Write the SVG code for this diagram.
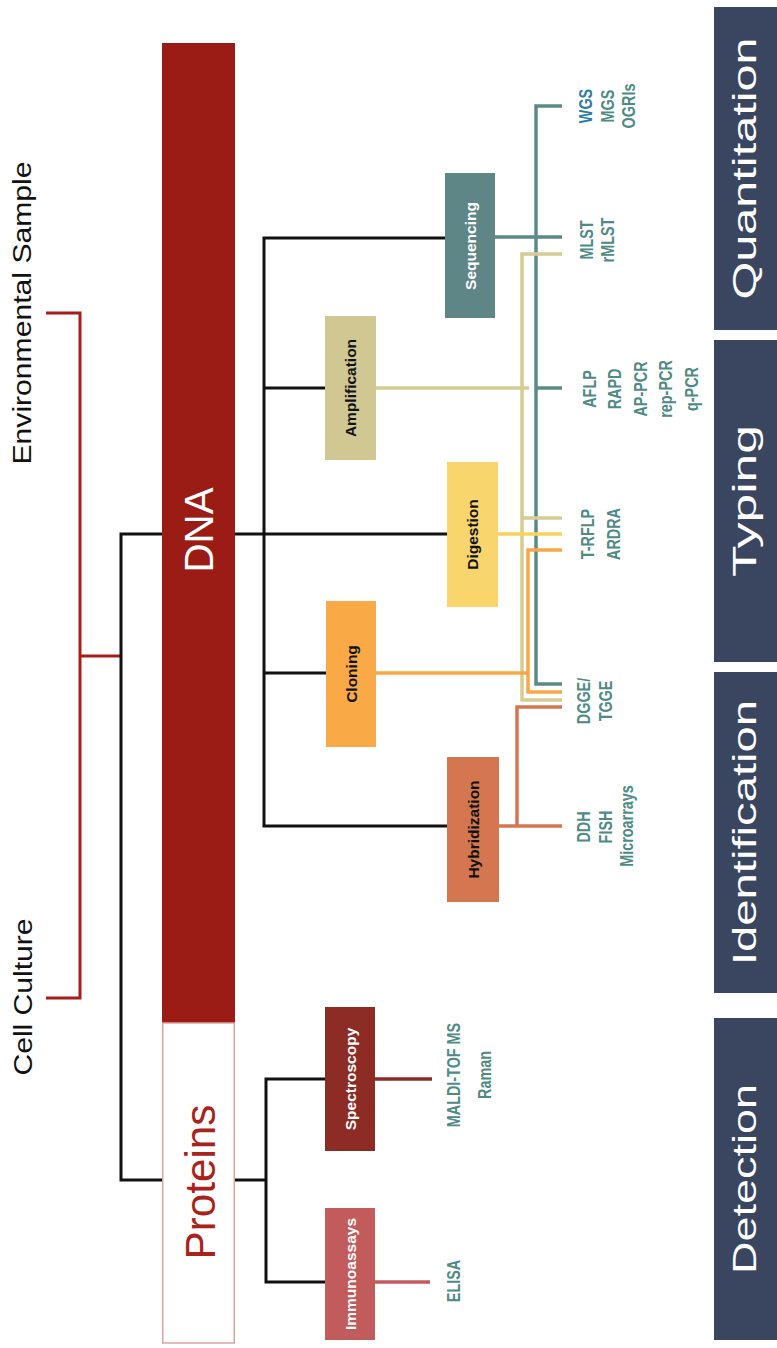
<svg xmlns="http://www.w3.org/2000/svg" width="777" height="1348" viewBox="0 0 777 1348">
<style>
  .cat { fill:#3a4660; }
  .catt { font-family:"Liberation Sans", Arial, sans-serif; font-size:33px; fill:#ffffff; text-anchor:middle; }
  .big { font-family:"Liberation Sans", Arial, sans-serif; text-anchor:middle; }
  .nt { font-family:"Liberation Sans", Arial, sans-serif; font-weight:bold; font-size:15.5px; text-anchor:middle; }
  .leaf { font-family:"Liberation Sans", Arial, sans-serif; font-weight:bold; font-size:18px; fill:#4f8a84; text-anchor:middle; }
  .blk { fill:none; stroke:#111111; stroke-width:3; }
  .ln { fill:none; stroke-width:3.5; }
</style>

<g id="connectors">
  <path d="M46,313 H80 V998 H46" fill="none" stroke="#a61f1a" stroke-width="3"/>
  <path d="M80,656 H121" fill="none" stroke="#a61f1a" stroke-width="3"/>
  <path class="blk" d="M162,534 H121 V1180 H162"/>
  <path class="blk" d="M235,534 H447"/>
  <path class="blk" d="M445,238 H264 V826 H447"/>
  <path class="blk" d="M264,388 H325"/>
  <path class="blk" d="M264,673 H326"/>
  <path class="blk" d="M235,1180 H266"/>
  <path class="blk" d="M325,1079 H266 V1282 H325"/>

  <path class="ln" stroke="#5b8a89" d="M562,106 H536 V684 H562"/>
  <path class="ln" stroke="#5b8a89" d="M495,237 H562"/>
  <path class="ln" stroke="#5b8a89" d="M536,388 H562"/>
  <path class="ln" stroke="#d6cb93" d="M562,254 H522 V700 H562"/>
  <path class="ln" stroke="#d6cb93" d="M376,388 H529"/>
  <path class="ln" stroke="#d6cb93" d="M522,518 H562"/>
  <path class="ln" stroke="#f9a845" d="M562,550 H528 V692 H562"/>
  <path class="ln" stroke="#f9a845" d="M376,673 H528"/>
  <path class="ln" stroke="#f8d35c" d="M498,534 H562"/>
  <path class="ln" stroke="#d4764f" d="M499,826 H562"/>
  <path class="ln" stroke="#d4764f" d="M517,826 V707 H562"/>
  <path class="ln" stroke="#8d2b25" d="M375,1079 H432"/>
  <path class="ln" stroke="#c25c5c" d="M375,1282 H430"/>
</g>

<g id="env-sample">
  <text class="big" font-size="26" fill="#111" textLength="303" lengthAdjust="spacingAndGlyphs" transform="translate(31,313) rotate(-90)">Environmental Sample</text>
</g>
<g id="cell-culture">
  <text class="big" font-size="26" fill="#111" textLength="157" lengthAdjust="spacingAndGlyphs" transform="translate(32,997) rotate(-90)">Cell Culture</text>
</g>

<g id="dna">
  <rect x="162" y="43" width="73" height="980" fill="#9b1c15"/>
  <text class="big" font-size="41" fill="#ffffff" textLength="85" lengthAdjust="spacingAndGlyphs" transform="translate(213,530) rotate(-90)">DNA</text>
</g>
<g id="proteins">
  <rect x="162.75" y="1023" width="71.5" height="320" fill="#ffffff" stroke="#dba5a0" stroke-width="1.5"/>
  <text class="big" font-size="43" fill="#a8231b" textLength="155" lengthAdjust="spacingAndGlyphs" transform="translate(215,1182) rotate(-90)">Proteins</text>
</g>

<g id="sequencing">
  <rect x="445" y="173" width="50" height="145" fill="#5e8686"/>
  <text class="nt" fill="#ffffff" transform="translate(475.5,246) rotate(-90)">Sequencing</text>
</g>
<g id="amplification">
  <rect x="325" y="316" width="51" height="144" fill="#d0c793"/>
  <text class="nt" fill="#111" transform="translate(356,388) rotate(-90)">Amplification</text>
</g>
<g id="digestion">
  <rect x="447" y="462" width="51" height="145" fill="#f8d56d"/>
  <text class="nt" fill="#111" transform="translate(478,534.5) rotate(-90)">Digestion</text>
</g>
<g id="cloning">
  <rect x="326" y="601" width="50" height="146" fill="#f9a945"/>
  <text class="nt" fill="#111" transform="translate(356.5,674) rotate(-90)">Cloning</text>
</g>
<g id="hybridization">
  <rect x="447" y="757" width="52" height="145" fill="#d4764f"/>
  <text class="nt" fill="#111" transform="translate(478.5,829.5) rotate(-90)">Hybridization</text>
</g>
<g id="spectroscopy">
  <rect x="325" y="1007" width="50" height="144" fill="#8d2b25"/>
  <text class="nt" fill="#ffffff" transform="translate(355.5,1079) rotate(-90)">Spectroscopy</text>
</g>
<g id="immunoassays">
  <rect x="325" y="1208" width="50" height="132" fill="#c25c5c"/>
  <text class="nt" fill="#ffffff" transform="translate(355.5,1274) rotate(-90)">Immunoassays</text>
</g>

<g id="leaf-labels">
  <text class="leaf" style="fill:#2a7da5" transform="translate(591.5,106) rotate(-90) scale(0.8,1)">WGS</text>
  <text class="leaf" transform="translate(613.5,106) rotate(-90) scale(0.8,1)">MGS</text>
  <text class="leaf" transform="translate(634.5,106) rotate(-90) scale(0.8,1)">OGRIs</text>
  <text class="leaf" transform="translate(592.5,240) rotate(-90) scale(0.8,1)">MLST</text>
  <text class="leaf" transform="translate(613.5,240) rotate(-90) scale(0.8,1)">rMLST</text>
  <text class="leaf" transform="translate(595.5,389) rotate(-90) scale(0.8,1)">AFLP</text>
  <text class="leaf" transform="translate(621,389) rotate(-90) scale(0.8,1)">RAPD</text>
  <text class="leaf" transform="translate(646.5,389) rotate(-90) scale(0.8,1)">AP-PCR</text>
  <text class="leaf" transform="translate(672,389) rotate(-90) scale(0.8,1)">rep-PCR</text>
  <text class="leaf" transform="translate(697.5,389) rotate(-90) scale(0.8,1)">q-PCR</text>
  <text class="leaf" transform="translate(593.5,534) rotate(-90) scale(0.8,1)">T-RFLP</text>
  <text class="leaf" transform="translate(619.5,534) rotate(-90) scale(0.8,1)">ARDRA</text>
  <text class="leaf" transform="translate(589.5,701) rotate(-90) scale(0.8,1)">DGGE/</text>
  <text class="leaf" transform="translate(611.5,701) rotate(-90) scale(0.8,1)">TGGE</text>
  <text class="leaf" transform="translate(589.5,827) rotate(-90) scale(0.8,1)">DDH</text>
  <text class="leaf" transform="translate(611.5,827) rotate(-90) scale(0.8,1)">FISH</text>
  <text class="leaf" transform="translate(632.5,826) rotate(-90) scale(0.8,1)">Microarrays</text>
  <text class="leaf" transform="translate(459.5,1075) rotate(-90) scale(0.8,1)">MALDI-TOF MS</text>
  <text class="leaf" transform="translate(490.5,1075) rotate(-90) scale(0.8,1)">Raman</text>
  <text class="leaf" transform="translate(459.5,1281) rotate(-90) scale(0.8,1)">ELISA</text>
</g>

<g id="quantitation">
  <rect class="cat" x="714" y="7" width="63" height="323"/>
  <text class="catt" textLength="262" lengthAdjust="spacingAndGlyphs" transform="translate(756,168.5) rotate(-90)">Quantitation</text>
</g>
<g id="typing">
  <rect class="cat" x="714" y="340" width="63" height="322"/>
  <text class="catt" textLength="152" lengthAdjust="spacingAndGlyphs" transform="translate(756,501) rotate(-90)">Typing</text>
</g>
<g id="identification">
  <rect class="cat" x="714" y="672" width="63" height="321"/>
  <text class="catt" textLength="265" lengthAdjust="spacingAndGlyphs" transform="translate(756,832.5) rotate(-90)">Identification</text>
</g>
<g id="detection">
  <rect class="cat" x="714" y="1018" width="63" height="322"/>
  <text class="catt" textLength="190" lengthAdjust="spacingAndGlyphs" transform="translate(756,1179) rotate(-90)">Detection</text>
</g>
</svg>
